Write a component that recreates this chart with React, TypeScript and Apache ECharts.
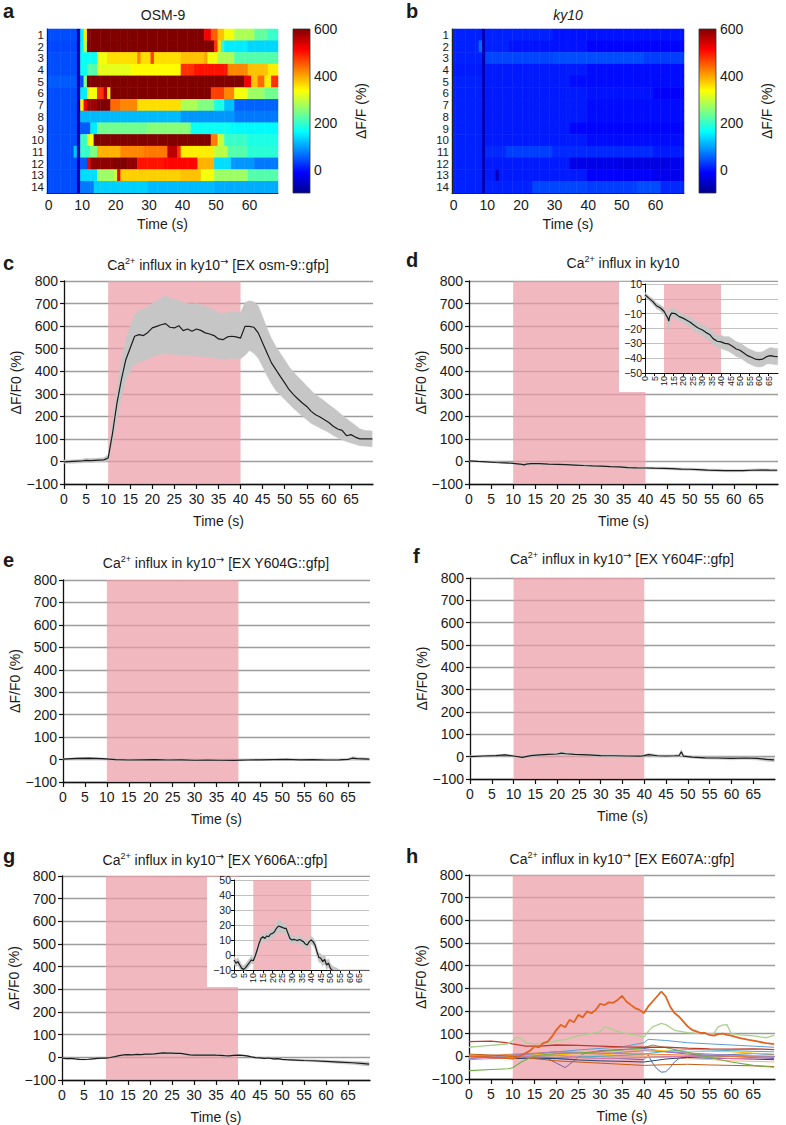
import React, { useEffect, useRef } from 'react';
import * as echarts from 'echarts';

const FONT = '"Liberation Sans", Arial, Helvetica, sans-serif';
const TXT = '#1a1a1a';
const PINK = 'rgb(236,158,166)';
const BAND_GRAY = '#c6c6c6';

// ---------------- heatmaps (a, b) ----------------
const ROW_LABELS = ['1', '2', '3', '4', '5', '6', '7', '8', '9', '10', '11', '12', '13', '14'];
const HEAT_SECONDS = 69;
const HEAT_TICK_STEP = 10;
const JET = ['#00008F', '#0000FF', '#0080FF', '#00FFFF', '#80FF80', '#FFFF00', '#FF8000', '#FF0000', '#800000'];
const CBAR_MIN = -100;
const CBAR_MAX = 600;
const CBAR_TICKS = [0, 200, 400, 600];

// each row: [start second, ΔF/F value] runs
const OSM9_SEGMENTS = [
  [[0, 40], [9, -70], [10, 150], [11, 350], [12, 600], [47, 520], [49, 450], [51, 380], [53, 330], [56, 280], [62, 230], [66, 200]],
  [[0, 35], [9, -70], [10, 160], [11, 300], [12, 600], [50, 480], [51, 360], [52, 190], [53, 150], [60, 135]],
  [[0, 40], [9, -70], [10, 170], [15, 330], [18, 360], [27, 420], [28, 360], [31, 470], [32, 360], [40, 380], [47, 400], [48, 330], [51, 280], [56, 220]],
  [[0, 40], [9, -70], [10, 170], [12, 220], [15, 320], [25, 340], [40, 480], [44, 500], [54, 420], [60, 380], [66, 350]],
  [[0, 50], [9, -70], [10, 40], [11, 250], [12, 600], [59, 520], [61, 380], [63, 440], [65, 350], [67, 480]],
  [[0, 40], [9, -70], [10, 150], [12, 330], [15, 480], [17, 560], [18, 350], [19, 600], [49, 470], [53, 420], [56, 330], [60, 270], [65, 240]],
  [[0, 40], [9, -70], [10, 350], [11, 520], [12, 580], [15, 600], [19, 440], [22, 420], [27, 360], [40, 280], [45, 250], [50, 180], [53, 120], [56, 55]],
  [[0, 40], [9, -70], [10, 115], [40, 90], [56, 70]],
  [[0, 40], [9, -70], [10, 50], [13, 150], [15, 240], [30, 255], [43, 170], [55, 160]],
  [[0, 40], [9, -70], [10, 200], [12, 330], [14, 600], [49, 430], [51, 300], [53, 200], [60, 180]],
  [[0, 40], [8, 120], [9, -70], [10, 200], [13, 250], [15, 390], [22, 420], [29, 430], [36, 560], [39, 480], [40, 350], [50, 290], [54, 220], [60, 190]],
  [[0, 40], [9, -70], [10, 50], [12, 520], [13, 590], [20, 600], [24, 590], [27, 500], [35, 510], [45, 390], [50, 140], [55, 90], [62, 70]],
  [[0, 40], [9, -70], [10, 140], [15, 270], [20, 300], [21, 520], [22, 370], [40, 380], [46, 330], [50, 270], [60, 220]],
  [[0, 40], [9, -70], [10, 70], [14, 130], [30, 115], [50, 105]],
];

const KY10_SEGMENTS = [
  [[0, 10], [9, -70], [10, 10], [30, 0]],
  [[0, 10], [8, 60], [9, -70], [10, 10], [17, 0], [40, -10]],
  [[0, 10], [9, -70], [10, 35], [30, 40], [57, 30]],
  [[0, 5], [9, -70], [10, 5], [40, -5]],
  [[0, 10], [9, -70], [10, 5], [35, -5]],
  [[0, 10], [9, -70], [10, 5], [40, 0], [60, -15]],
  [[0, 10], [9, -70], [10, 5], [40, -5]],
  [[0, 10], [9, -70], [10, 5], [40, -5]],
  [[0, 10], [9, -70], [10, 5], [35, -10]],
  [[0, 10], [9, -70], [10, 5], [40, -5]],
  [[0, 10], [9, -70], [10, 15], [16, 30], [30, 15], [60, 5]],
  [[0, 10], [9, -70], [10, 5], [35, -30], [50, -35], [65, -25]],
  [[0, 10], [9, -70], [10, 5], [13, -60], [14, 5], [40, -15], [60, -25]],
  [[0, 10], [9, -70], [10, 10], [24, 35], [40, 30], [55, 40], [62, 15]],
];

// ---------------- line panels ----------------
const T_MAX = 70;
const TIME_TICKS = [0, 5, 10, 15, 20, 25, 30, 35, 40, 45, 50, 55, 60, 65];
const STIMULUS = [10, 40];
const DF_MIN = -100;
const DF_MAX = 800;
const DF_STEP = 100;

// c : osm-9 rescue (mean and SEM band)
const C_TIME = [0, 1, 2, 3, 4, 5, 6, 7, 8, 9, 10, 11, 12, 13, 14, 15, 16, 17, 18, 19, 20, 21, 22, 23, 24, 25, 26, 27, 28, 29, 30, 31, 32, 33, 34, 35, 36, 37, 38, 39, 40, 41, 42, 43, 44, 45, 46, 47, 48, 49, 50, 51, 52, 53, 54, 55, 56, 57, 58, 59, 60, 61, 62, 63, 64, 65, 66, 67, 68, 69.8];
const C_MEAN = [-2, -1, 0, 1, 2, 5, 4, 5, 6, 7, 15, 126, 259, 363, 451, 503, 555, 562, 558, 572, 592, 599, 606, 611, 595, 592, 602, 580, 587, 577, 587, 581, 570, 565, 558, 543, 540, 552, 555, 552, 547, 599, 599, 595, 570, 525, 481, 437, 407, 377, 348, 318, 296, 277, 259, 244, 222, 207, 197, 185, 173, 156, 144, 138, 114, 119, 108, 100, 100, 100];
const C_LOW = [-8, -8, -8, -7, -6, -4, -5, -4, -3, -2, 2, 85, 195, 285, 360, 400, 430, 440, 445, 455, 465, 470, 475, 478, 475, 475, 472, 470, 470, 468, 468, 465, 465, 462, 460, 455, 452, 455, 458, 458, 455, 470, 492, 480, 458, 420, 380, 345, 315, 295, 275, 255, 235, 218, 200, 185, 168, 158, 148, 138, 128, 115, 105, 96, 88, 82, 76, 70, 68, 65];
const C_HIGH = [6, 6, 7, 8, 10, 14, 13, 14, 15, 16, 30, 165, 320, 440, 540, 600, 650, 670, 675, 685, 700, 712, 725, 735, 725, 718, 715, 705, 700, 695, 700, 695, 688, 680, 672, 660, 655, 660, 665, 665, 660, 705, 712, 708, 690, 640, 590, 545, 510, 480, 450, 420, 395, 375, 355, 335, 315, 295, 282, 268, 252, 238, 222, 205, 190, 175, 160, 145, 138, 135];

// d : ky10 (mean ± SEM)
const D_TIME = [0, 2, 4, 6, 8, 10, 11, 12, 12.5, 13, 14, 16, 18, 20, 22, 24, 26, 28, 30, 32, 34, 36, 38, 40, 42, 44, 46, 48, 50, 52, 54, 56, 58, 60, 62, 64, 66, 68, 69.8];
const D_MEAN = [2.8, 0.5, -1.7, -4.6, -6, -8.4, -10.7, -13, -15, -11.8, -9.6, -10, -12, -13, -14.5, -16, -18, -19.7, -20.8, -22.6, -24, -27, -28.6, -29, -30, -30.4, -32, -33.8, -34.7, -36.5, -38.3, -39.4, -40.6, -41, -40.6, -39, -38.3, -38.8, -39];
const D_ERR = [1.5, 1.5, 2, 2, 2, 2.5, 3, 4, 6, 5, 3.5, 3, 3, 3, 3, 3.5, 3.5, 3.5, 3.5, 4, 4, 4, 4, 4.5, 4.5, 5, 5, 5, 5, 5, 5, 5, 5, 5, 5, 5, 5.5, 5.5, 5.5];

// e : Y604G
const E_TIME = [0, 3, 6, 9, 12, 15, 18, 21, 24, 27, 30, 33, 36, 39, 42, 45, 48, 51, 54, 57, 60, 63, 65, 66, 67, 69.8];
const E_MEAN = [2, 5, 6, 4, 0, -2, -1, 0, -2, -1, -3, -2, -3, -4, -2, -1, 0, 1, -1, 0, -2, -1, 1, 6, 4, 2];
const E_ERR = [3, 3, 3, 3, 3, 3, 3, 3, 3, 3, 3, 3, 3, 3, 3, 3, 3, 3, 3, 3, 3, 3, 4, 8, 6, 5];

// f : Y604F
const F_TIME = [0, 3, 6, 8, 10, 12, 14, 16, 18, 20, 21, 22, 24, 27, 30, 33, 36, 39, 40, 41, 43, 45, 47, 48, 48.5, 49, 51, 54, 57, 60, 63, 66, 68, 69.8];
const F_MEAN = [0, 3, 5, 8, 3, -3, 5, 8, 10, 12, 16, 13, 10, 8, 5, 4, 3, 2, 5, 9, 4, 3, 4, 5, 22, 2, -2, -5, -6, -8, -6, -8, -12, -14];
const F_ERR = [4, 4, 4, 4, 4, 4, 5, 5, 5, 6, 7, 6, 6, 5, 5, 5, 5, 5, 5, 6, 5, 5, 5, 5, 10, 5, 5, 5, 6, 6, 6, 7, 8, 9];

// g : Y606A
const G_TIME = [0, 1, 2, 3, 4, 5, 6, 7, 8, 9, 10, 11, 12, 13, 14, 15, 16, 17, 18, 19, 20, 21, 22, 23, 24, 25, 26, 27, 28, 29, 30, 31, 32, 33, 34, 35, 36, 37, 38, 39, 40, 41, 42, 43, 44, 45, 46, 47, 48, 49, 50, 51, 53, 55, 57, 60, 63, 66, 68, 69.8];
const G_MEAN = [-3.3, -5.5, -4.4, -6.7, -8.9, -9.6, -8.4, -6.7, -5, -3.3, -3.8, -0.7, 3.3, 7.8, 11, 12.2, 11, 12.7, 12.2, 14, 14.4, 15.5, 17.8, 19.3, 18.9, 18.4, 17.8, 17.8, 14.4, 11, 10, 10.4, 10, 9.6, 10.4, 9.6, 8.9, 7.3, 6.7, 8.9, 10, 8.9, 6.7, 2.2, -1.6, -2.2, -4.4, -2.9, -6.7, -5.5, -8.9, -10.4, -12, -14, -15, -18, -21, -24, -27, -30];
const G_ERR = [2.5, 2.5, 2.5, 2.5, 2.5, 2.5, 2.5, 2.5, 2.5, 2.5, 2, 2, 2, 2.5, 2.5, 2.5, 2.5, 2.5, 2.5, 3, 3, 3, 3.5, 4, 4, 3.5, 3, 3, 3, 3, 2.5, 2.5, 2.5, 2.5, 2.5, 2.5, 2.5, 2.5, 2.5, 2.5, 2.5, 2.5, 2.5, 3, 3, 3, 3, 3, 3, 3, 3, 3, 3.5, 4, 4.5, 5, 6, 7, 8, 9];

// h : E607A individual traces ([time, value])
const H_BLUE = [[0, -10], [3, -4], [6, -8], [10, 0], [13, -6], [16, -3], [20, -9], [25, -5], [30, -8], [35, -10], [40, -15], [41, 5], [42, -30], [43, -55], [44, -70], [45, -68], [46, -50], [47, -25], [48, -10], [50, 0], [55, 5], [60, 8], [65, 12], [69.8, 8]];
const H_PURPLE = [[0, 0], [5, -5], [10, 0], [15, 5], [18, -10], [20, -30], [22, -50], [24, -20], [26, 10], [30, 25], [35, 30], [40, 35], [45, 20], [50, 10], [55, 5], [60, 0], [65, -5], [69.8, -10]];
const H_LIGHTBLUE = [[0, 0], [5, -2], [10, 5], [15, 10], [20, 20], [25, 28], [30, 35], [35, 42], [40, 60], [41, 75], [45, 70], [50, 60], [55, 55], [60, 50], [65, 45], [69.8, 40]];
const H_SALMON = [[0, -5], [5, 0], [10, -10], [15, -4], [20, 0], [25, -8], [30, -5], [35, 2], [40, 0], [45, -6], [50, -10], [55, -14], [60, -20], [65, -22], [69.8, -25]];
const H_GOLD = [[0, 5], [5, 2], [10, 0], [15, 6], [20, 10], [25, 4], [30, 5], [35, 14], [40, 30], [45, 24], [50, 20], [55, 22], [60, 20], [65, 14], [69.8, 10]];
const H_TEAL = [[0, 0], [5, 4], [10, 5], [15, -2], [20, -5], [25, -3], [30, 0], [35, 4], [40, 10], [45, 22], [50, 30], [55, 28], [60, 25], [65, 22], [69.8, 20]];
const H_NAVY = [[0, 0], [5, -4], [10, -10], [15, -8], [20, -10], [25, -16], [30, -20], [35, -22], [40, -25], [45, -12], [50, -5], [55, -8], [60, -10], [65, -12], [69.8, -15]];
const H_ORANGE2 = [[0, 0], [5, 4], [10, 10], [15, 14], [20, 20], [25, 18], [30, 15], [35, 12], [40, 10], [45, 8], [50, 5], [55, 3], [60, 0], [65, -2], [69.8, -5]];
const H_BROWN = [[0, 10], [5, 6], [10, 0], [15, -10], [20, -20], [25, -25], [30, -30], [35, -35], [40, -40], [45, -37], [50, -35], [55, -38], [60, -40], [65, -42], [69.8, -45]];
const H_LAVENDER = [[0, -10], [5, -4], [10, 5], [15, 12], [20, 20], [25, 15], [30, 10], [35, 18], [40, 25], [45, 20], [50, 15], [55, 10], [60, 5], [65, 2], [69.8, 0]];
const H_PINK = [[0, -15], [5, -10], [10, -5], [15, 0], [20, 5], [25, -4], [30, -10], [35, -8], [40, -5], [45, -2], [50, 0], [55, -6], [60, -10], [65, -8], [69.8, -5]];
const H_GREEN = [[0, -63], [5, -58], [9, -55], [10, -50], [12, -25], [14, -5], [16, 5], [20, 12], [25, 15], [30, 22], [35, 28], [40, 38], [42, 50], [44, 42], [47, 30], [50, 18], [55, -5], [60, -25], [65, -40], [69.8, -48]];
const H_DARKRED = [[0, 65], [5, 67], [8, 62], [10, 55], [13, 45], [16, 45], [20, 50], [25, 48], [30, 45], [35, 42], [40, 40], [45, 40], [50, 36], [55, 33], [60, 32], [65, 33], [69.8, 30]];
const H_LIGHTGREEN = [[0, 40], [3, 45], [6, 50], [9, 55], [10, 70], [11, 85], [12, 78], [13, 60], [15, 55], [18, 60], [20, 68], [22, 75], [25, 90], [28, 100], [30, 110], [31, 130], [32, 125], [34, 110], [36, 100], [38, 95], [40, 85], [41, 110], [42, 130], [44, 145], [45, 140], [47, 115], [50, 105], [53, 100], [56, 100], [57, 130], [58, 138], [59, 140], [60, 100], [62, 95], [65, 90], [68, 82], [69.8, 92]];
const H_ORANGE = [[0, 0], [5, -5], [10, -10], [11, -5], [12, 5], [13, 15], [14, 25], [15, 44], [16, 40], [17, 58], [18, 65], [19, 88], [20, 117], [21, 139], [22, 128], [23, 161], [24, 150], [25, 183], [26, 172], [27, 198], [28, 190], [29, 205], [30, 232], [31, 226], [32, 238], [33, 236], [34, 249], [35, 267], [36, 242], [37, 227], [38, 213], [39, 205], [40, 191], [41, 220], [42, 242], [43, 264], [44, 286], [45, 264], [46, 220], [47, 191], [48, 176], [49, 154], [50, 132], [51, 117], [52, 110], [53, 103], [54, 103], [55, 95], [56, 91], [57, 98], [58, 100], [59, 95], [60, 91], [62, 80], [64, 73], [66, 66], [68, 58], [69.8, 54]];

const H_TRACES = [
  { color: '#4472C4', width: 1, points: H_BLUE },
  { color: '#7B5EA7', width: 1, points: H_PURPLE },
  { color: '#5B9BD5', width: 1, points: H_LIGHTBLUE },
  { color: '#F4B183', width: 1, points: H_SALMON },
  { color: '#FFC000', width: 1, points: H_GOLD },
  { color: '#4BACC6', width: 1, points: H_TEAL },
  { color: '#264478', width: 1, points: H_NAVY },
  { color: '#ED7D31', width: 1, points: H_ORANGE2 },
  { color: '#C55A11', width: 1, points: H_BROWN },
  { color: '#9E82C6', width: 1, points: H_LAVENDER },
  { color: '#E377A8', width: 1, points: H_PINK },
  { color: '#70AD47', width: 1.1, points: H_GREEN },
  { color: '#C0392B', width: 1.3, points: H_DARKRED },
  { color: '#A9D18E', width: 1.3, points: H_LIGHTGREEN },
  { color: '#E2621F', width: 1.8, points: H_ORANGE },
];

// ---------------- helpers ----------------
const minus = (v: number) => (v < 0 ? '\u2212' + Math.abs(v) : String(v));

function expandRow(segs: number[][]) {
  const out: number[] = [];
  for (let c = 0; c < HEAT_SECONDS; c++) {
    let v = segs[0][1];
    for (const s of segs) if (s[0] <= c) v = s[1];
    out.push(v);
  }
  return out;
}

function heatData(rows: number[][][]) {
  const data: number[][] = [];
  rows.forEach((segs, r) => expandRow(segs).forEach((v, c) => data.push([c, r, v])));
  return data;
}

const HEAT_CATS = Array.from({ length: HEAT_SECONDS }, (_, i) => String(i));

function heatX(grid: number) {
  return {
    type: 'category', gridIndex: grid, data: HEAT_CATS, z: 3,
    axisLine: { show: true, lineStyle: { color: '#222', width: 1 } },
    axisTick: { show: false },
    axisLabel: { interval: (i: number) => i % HEAT_TICK_STEP === 0, fontSize: 14, color: TXT, margin: 5, fontFamily: FONT },
    name: 'Time (s)', nameLocation: 'middle', nameGap: 24,
    nameTextStyle: { fontSize: 14, color: TXT, fontFamily: FONT },
  };
}
function heatY(grid: number) {
  return {
    type: 'category', gridIndex: grid, data: ROW_LABELS, inverse: true, z: 3,
    axisLine: { show: true, lineStyle: { color: '#222', width: 1 } },
    axisTick: { show: false },
    axisLabel: { interval: 0, fontSize: 11.5, lineHeight: 11, color: TXT, margin: 3, fontFamily: FONT },
  };
}
function cbarX(grid: number) {
  return { type: 'value', gridIndex: grid, show: false, min: 0, max: 1 };
}
function cbarY(grid: number) {
  return {
    type: 'value', gridIndex: grid, position: 'right', min: CBAR_MIN, max: CBAR_MAX,
    axisLine: { show: false }, axisTick: { show: false }, splitLine: { show: false },
    axisLabel: {
      customValues: CBAR_TICKS, fontSize: 14, color: TXT, margin: 4, fontFamily: FONT,
      formatter: (v: number) => (CBAR_TICKS.indexOf(v) >= 0 ? String(v) : ''),
    },
    name: '\u0394F/F (%)', nameLocation: 'middle', nameGap: 44, nameRotate: 90,
    nameTextStyle: { fontSize: 14, color: TXT, fontFamily: FONT },
  };
}

function mainX(grid: number) {
  return {
    type: 'value', gridIndex: grid, min: 0, max: T_MAX, interval: 5,
    axisLine: { show: true, onZero: false, lineStyle: { color: '#111', width: 1.3 } },
    axisTick: { show: true, length: 5, customValues: TIME_TICKS, lineStyle: { color: '#111', width: 1.2 } },
    axisLabel: { customValues: TIME_TICKS, formatter: (v: number) => (v > 65 ? '' : String(v)), fontSize: 14, color: TXT, margin: 8, fontFamily: FONT },
    splitLine: { show: false },
    name: 'Time (s)', nameLocation: 'middle', nameGap: 30,
    nameTextStyle: { fontSize: 14, color: TXT, fontFamily: FONT },
  };
}
function mainY(grid: number) {
  return {
    type: 'value', gridIndex: grid, min: DF_MIN, max: DF_MAX, interval: DF_STEP,
    axisLine: { show: true, onZero: false, lineStyle: { color: '#111', width: 1.3 } },
    axisTick: { show: true, length: 4, lineStyle: { color: '#111', width: 1.2 } },
    axisLabel: { formatter: minus, fontSize: 14, color: TXT, margin: 6, fontFamily: FONT },
    splitLine: { show: true, lineStyle: { color: '#9c9c9c', width: 1.3 } },
    name: '\u0394F/F0 (%)', nameLocation: 'middle', nameGap: 40,
    nameTextStyle: { fontSize: 14, color: TXT, fontFamily: FONT },
  };
}
function insetX(grid: number) {
  return {
    type: 'value', gridIndex: grid, min: 0, max: T_MAX, interval: 5, z: 5,
    axisLine: { show: true, onZero: false, lineStyle: { color: '#111', width: 1 } },
    axisTick: { show: true, length: 3, customValues: TIME_TICKS, lineStyle: { color: '#111' } },
    axisLabel: {
      customValues: TIME_TICKS, formatter: (v: number) => (v > 65 ? '' : String(v)),
      rotate: 90, fontSize: 9, lineHeight: 9, color: TXT, margin: 3, fontFamily: FONT,
      showMinLabel: true, showMaxLabel: true, hideOverlap: false, interval: 0,
    },
    splitLine: { show: false },
  };
}
function insetY(grid: number, min: number, max: number) {
  return {
    type: 'value', gridIndex: grid, min, max, interval: 10, z: 5,
    axisLine: { show: true, onZero: false, lineStyle: { color: '#111', width: 1 } },
    axisTick: { show: true, length: 3, lineStyle: { color: '#111' } },
    axisLabel: { formatter: minus, fontSize: 10.5, color: TXT, margin: 3, fontFamily: FONT },
    splitLine: { show: true, lineStyle: { color: '#c2c2c2', width: 1 } },
  };
}

function stimArea(z: number) {
  return {
    silent: true, z,
    itemStyle: { color: PINK, opacity: 0.72 },
    data: [[{ xAxis: STIMULUS[0] }, { xAxis: STIMULUS[1] }]],
  };
}

// grey SEM band: one polygon through the upper edge and back along the lower edge
function bandSeries(axis: number, t: number[], low: number[], high: number[], z: number) {
  return {
    type: 'custom', xAxisIndex: axis, yAxisIndex: axis, z, silent: true,
    data: t.map((x, i) => [x, low[i], high[i]]),
    encode: { x: 0, y: [1, 2] },
    renderItem: (params: any, api: any) => {
      if (params.dataIndex !== 0) return null;
      const pts: number[][] = [];
      for (let i = 0; i < t.length; i++) pts.push(api.coord([t[i], high[i]]));
      for (let i = t.length - 1; i >= 0; i--) pts.push(api.coord([t[i], low[i]]));
      const cs = params.coordSys;
      const clipped = (echarts.graphic as any).clipPointsByRect(pts, { x: cs.x, y: cs.y, width: cs.width, height: cs.height });
      return { type: 'polygon', shape: { points: clipped }, style: { fill: BAND_GRAY, stroke: BAND_GRAY, lineWidth: 0.5 }, silent: true };
    },
  };
}
function meanSeries(axis: number, t: number[], mean: number[], z: number, markZ: number) {
  return {
    type: 'line', xAxisIndex: axis, yAxisIndex: axis, data: t.map((x, i) => [x, mean[i]]),
    symbol: 'none', showSymbol: false, silent: true, z,
    lineStyle: { color: '#1c1c1c', width: 1.2 },
    markArea: stimArea(markZ),
  };
}
function meanErrPanel(axis: number, t: number[], mean: number[], err: number[], z: number, markZ: number) {
  const low = mean.map((m, i) => m - err[i]);
  const high = mean.map((m, i) => m + err[i]);
  return [bandSeries(axis, t, low, high, z), meanSeries(axis, t, mean, z + 1, markZ)];
}

function text(x: number, y: number, str: string, size: number, opts: any = {}) {
  return {
    type: 'text', x, y, silent: true, z: 10,
    style: {
      text: str, fill: TXT, fontFamily: FONT, fontSize: size,
      fontWeight: opts.bold ? 'bold' : 'normal', fontStyle: opts.italic ? 'italic' : 'normal',
      align: opts.align || 'center', textAlign: opts.align || 'center',
      verticalAlign: 'middle', textVerticalAlign: 'middle',
      lineHeight: 18,
      rich: {
        sup: { fontSize: 9, verticalAlign: 'top', lineHeight: 10, fontFamily: FONT, fill: TXT },
        arr: { fontSize: 10, verticalAlign: 'top', lineHeight: 10, fontFamily: '"DejaVu Sans", sans-serif', fill: TXT },
      },
    },
  };
}

function buildOption() {
  const jetStops = JET.map((c, i) => ({ offset: i / (JET.length - 1), color: c }));
  const cbarFill = () => new echarts.graphic.LinearGradient(0, 1, 0, 0, jetStops);

  const grids = [
    { left: 47, top: 29, width: 231, height: 164 }, // 0 a heat
    { left: 293, top: 29, width: 17, height: 164, show: true, backgroundColor: cbarFill(), borderColor: '#333', borderWidth: 0.8 }, // 1 a bar
    { left: 452, top: 29, width: 232, height: 164 }, // 2 b heat
    { left: 699, top: 29, width: 17, height: 164, show: true, backgroundColor: cbarFill(), borderColor: '#333', borderWidth: 0.8 }, // 3 b bar
    { left: 64, top: 281, width: 309, height: 203 }, // 4 c
    { left: 469, top: 281, width: 309, height: 203 }, // 5 d
    { left: 645, top: 284, width: 133, height: 89 }, // 6 d inset
    { left: 63, top: 580, width: 307, height: 202 }, // 7 e
    { left: 470, top: 578, width: 305, height: 201 }, // 8 f
    { left: 62, top: 876, width: 308, height: 204 }, // 9 g
    { left: 234, top: 880, width: 135, height: 90 }, // 10 g inset
    { left: 469, top: 875, width: 306, height: 204 }, // 11 h
  ];

  const xAxis = [
    heatX(0), cbarX(1), heatX(2), cbarX(3),
    mainX(4), mainX(5), insetX(6), mainX(7), mainX(8), mainX(9), insetX(10), mainX(11),
  ];
  const yAxis = [
    heatY(0), cbarY(1), heatY(2), cbarY(3),
    mainY(4), mainY(5), insetY(6, -50, 10), mainY(7), mainY(8), mainY(9), insetY(10, -10, 50), mainY(11),
  ];

  const series: any[] = [
    { type: 'heatmap', xAxisIndex: 0, yAxisIndex: 0, data: heatData(OSM9_SEGMENTS), progressive: 0, silent: true },
    { type: 'heatmap', xAxisIndex: 2, yAxisIndex: 2, data: heatData(KY10_SEGMENTS), progressive: 0, silent: true },
    bandSeries(4, C_TIME, C_LOW, C_HIGH, 2),
    meanSeries(4, C_TIME, C_MEAN, 3, 1),
    ...meanErrPanel(5, D_TIME, D_MEAN, D_ERR, 2, 1),
    ...meanErrPanel(6, D_TIME, D_MEAN, D_ERR, 6, 5),
    ...meanErrPanel(7, E_TIME, E_MEAN, E_ERR, 2, 1),
    ...meanErrPanel(8, F_TIME, F_MEAN, F_ERR, 2, 1),
    ...meanErrPanel(9, G_TIME, G_MEAN, G_ERR, 2, 1),
    ...meanErrPanel(10, G_TIME, G_MEAN, G_ERR, 6, 5),
  ];
  H_TRACES.forEach((tr, i) => {
    const s: any = {
      type: 'line', xAxisIndex: 11, yAxisIndex: 11, data: tr.points,
      symbol: 'none', showSymbol: false, silent: true, z: 2 + i * 0.01,
      lineStyle: { color: tr.color, width: tr.width },
    };
    if (i === 0) s.markArea = stimArea(1);
    series.push(s);
  });

  const sup = '{sup|2+}';
  const arrow = '{arr|\u2192}';
  const graphic = [
    // white boxes behind the insets
    { type: 'rect', shape: { x: 619, y: 282, width: 167, height: 110 }, style: { fill: '#fff' }, z: 4, silent: true },
    { type: 'rect', shape: { x: 207, y: 877, width: 170, height: 110 }, style: { fill: '#fff' }, z: 4, silent: true },
    // panel letters
    text(3, 11, 'a', 20, { bold: true, align: 'left' }),
    text(406, 11, 'b', 20, { bold: true, align: 'left' }),
    text(3, 263, 'c', 20, { bold: true, align: 'left' }),
    text(406, 260, 'd', 20, { bold: true, align: 'left' }),
    text(3, 560, 'e', 20, { bold: true, align: 'left' }),
    text(413, 556, 'f', 20, { bold: true, align: 'left' }),
    text(3, 856, 'g', 20, { bold: true, align: 'left' }),
    text(406, 856, 'h', 20, { bold: true, align: 'left' }),
    // titles
    text(163, 15, 'OSM-9', 14),
    text(568, 15, 'ky10', 14, { italic: true }),
    text(218, 265, 'Ca' + sup + ' influx in ky10' + arrow + ' [EX osm-9::gfp]', 14),
    text(623, 263, 'Ca' + sup + ' influx in ky10', 14),
    text(216, 563, 'Ca' + sup + ' influx in ky10' + arrow + ' [EX Y604G::gfp]', 14),
    text(622, 559, 'Ca' + sup + ' influx in ky10' + arrow + ' [EX Y604F::gfp]', 14),
    text(215, 860, 'Ca' + sup + ' influx in ky10' + arrow + ' [EX Y606A::gfp]', 14),
    text(622, 859, 'Ca' + sup + ' influx in ky10' + arrow + ' [EX E607A::gfp]', 14),
  ];

  return {
    animation: false,
    backgroundColor: '#fff',
    textStyle: { fontFamily: FONT },
    grid: grids,
    xAxis,
    yAxis,
    visualMap: [
      { type: 'continuous', show: false, seriesIndex: 0, dimension: 2, min: CBAR_MIN, max: CBAR_MAX, inRange: { color: JET } },
      { type: 'continuous', show: false, seriesIndex: 1, dimension: 2, min: CBAR_MIN, max: CBAR_MAX, inRange: { color: JET } },
    ],
    series,
    graphic,
  };
}

export default function App() {
  const ref = useRef<HTMLDivElement>(null);
  useEffect(() => {
    document.body.style.margin = '0';
    const chart = echarts.init(ref.current as HTMLDivElement, undefined, { renderer: 'svg' });
    chart.setOption(buildOption() as any);
    return () => chart.dispose();
  }, []);
  return <div ref={ref} style={{ width: 786, height: 1125, background: '#fff' }} />;
}
